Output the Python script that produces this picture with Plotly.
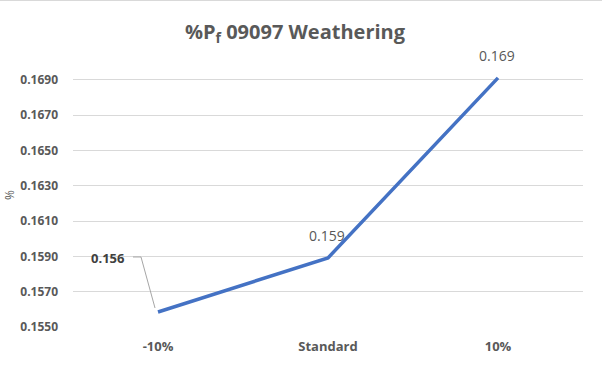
import plotly.graph_objects as go

categories = ["-10%", "Standard", "10%"]
values = [0.15585, 0.15891, 0.16910]
labels = ["0.156", "0.159", "0.169"]
tick_vals = [0.155, 0.157, 0.159, 0.161, 0.163, 0.165, 0.167, 0.169]
tick_text = ["0.1550", "0.1570", "0.1590", "0.1610", "0.1630", "0.1650", "0.1670", "0.1690"]

GRAY = "#595959"
FONT = "Open Sans"

fig = go.Figure()
fig.add_trace(go.Scatter(
    x=categories, y=values, mode="lines",
    line=dict(color="#4472C4", width=3.5),
    hoverinfo="skip",
))

# data labels
fig.add_annotation(x=categories[0], y=values[0], text="<b>" + labels[0] + "</b>",
                   showarrow=False, xshift=-50, yshift=54,
                   xanchor="center", yanchor="middle",
                   font=dict(family=FONT, size=13, color="#404040"))
# leader line (pixel offsets from the data point)
fig.add_shape(type="path", xref="x", yref="y", xsizemode="pixel", ysizemode="pixel",
              xanchor=categories[0], yanchor=values[0],
              path="M -25,55 L -17,55 L -3,4",
              line=dict(color="#a6a6a6", width=1))
for i in (1, 2):
    fig.add_annotation(x=categories[i], y=values[i], text=labels[i], showarrow=False,
                       yshift=22, xshift=-1,
                       font=dict(family=FONT, size=14, color=GRAY))

fig.add_annotation(xref="paper", yref="paper", x=(9 - 73) / 510, y=(327 - 195) / 265,
                   xanchor="center", yanchor="middle",
                   text="%", textangle=-90, showarrow=False,
                   font=dict(family=FONT, size=12, color=GRAY))

fig.update_layout(
    width=602, height=368,
    margin=dict(l=73, r=19, t=62, b=41),
    paper_bgcolor="white", plot_bgcolor="white",
    showlegend=False,
    title=dict(text="<b>%P<sub>f</sub> 09097 Weathering</b>", x=(295 - 73) / 510,
               xref="paper", xanchor="center",
               y=1 - 32 / 368, yanchor="middle",
               font=dict(family=FONT, size=20, color=GRAY)),
    font=dict(family=FONT, color=GRAY),
    xaxis=dict(range=[-0.5, 2.5], showgrid=False, showline=False, zeroline=False,
               tickfont=dict(family=FONT, size=13, color=GRAY, weight="bold"),
               ticklabelstandoff=10),
    yaxis=dict(range=[0.155, 0.170], tickvals=tick_vals, ticktext=tick_text,
               showgrid=True, gridcolor="#d9d9d9", gridwidth=1, zeroline=False,
               showline=False,
               tickfont=dict(family=FONT, size=12, color=GRAY, weight="bold"),
               ticklabelstandoff=14),
)
fig.add_shape(type="line", xref="paper", yref="paper", x0=-73/510, x1=1 + 19/510,
              y0=(327 - 0.5) / 265, y1=(327 - 0.5) / 265,
              line=dict(color="#d9d9d9", width=1))
fig.write_html("out.html", config={"displayModeBar": False},
               post_script="document.body.style.margin='0';")
